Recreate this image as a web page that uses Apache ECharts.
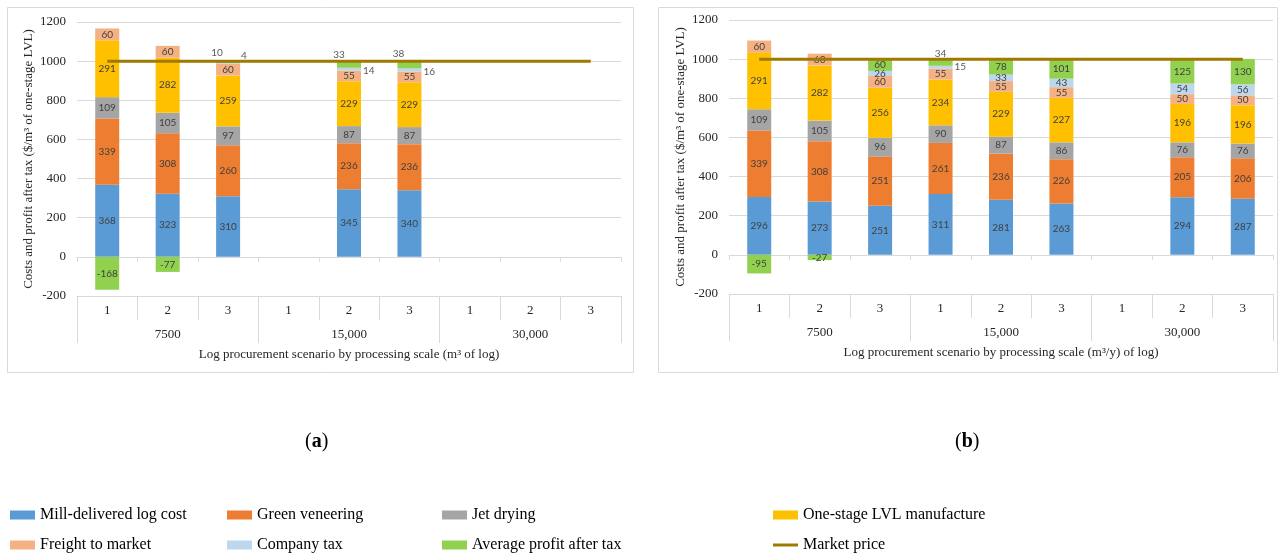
<!DOCTYPE html>
<html>
<head>
<meta charset="utf-8">
<script src="https://cdn.jsdelivr.net/npm/echarts@6/dist/echarts.min.js"></script>
<style>
  html, body { margin: 0; padding: 0; background: #fff; }
  #chart { width: 1282px; height: 556px; }
</style>
</head>
<body>
<div id="chart"></div>
<script>
// Category axis: scenario number within each processing scale
const scenarioLabels = ['1', '2', '3', '1', '2', '3', '1', '2', '3'];
const scaleLabels = ['7500', '15,000', '30,000'];
const yTicks = { min: -200, max: 1200, interval: 200 };

const seriesNames = [
  'Mill-delivered log cost', 'Green veneering', 'Jet drying', 'One-stage LVL manufacture',
  'Freight to market', 'Company tax', 'Average profit after tax'
];
const marketName = 'Market price';

// (a) costs and profit, $/m3 of one-stage LVL
const millA    = [368, 323, 310, null, 345, 340, null, null, null];
const greenA   = [339, 308, 260, null, 236, 236, null, null, null];
const jetA     = [109, 105,  97, null,  87,  87, null, null, null];
const lvlA     = [291, 282, 259, null, 229, 229, null, null, null];
const freightA = [ 60,  60,  60, null,  55,  55, null, null, null];
const taxA     = [null, null,  4, null,  14,  16, null, null, null];
const profitA  = [-168, -77,  10, null,  33,  38, null, null, null];

// (b) costs and profit, $/m3 of one-stage LVL
const millB    = [296, 273, 251, 311, 281, 263, null, 294, 287];
const greenB   = [339, 308, 251, 261, 236, 226, null, 205, 206];
const jetB     = [109, 105,  96,  90,  87,  86, null,  76,  76];
const lvlB     = [291, 282, 256, 234, 229, 227, null, 196, 196];
const freightB = [ 60,  60,  60,  55,  55,  55, null,  50,  50];
const taxB     = [null, null, 26,  15,  33,  43, null,  54,  56];
const profitB  = [-95, -27,  60,  34,  78, 101, null, 125, 130];

const marketPrice = [1000, 1000, 1000, 1000, 1000, 1000, 1000, 1000, 1000];

const colors = ['#5B9BD5', '#ED7D31', '#A5A5A5', '#FFC000', '#F4B183', '#BDD7EE', '#92D050'];
const marketColor = '#A07A00';

const serif = 'Liberation Serif, Times New Roman, serif';
const labelFont = 'Lato, Liberation Sans, sans-serif';
const gridColor = '#D9D9D9';

// Thin segments get their labels moved beside / above the column
const outsideA = {
  5: { 2: { position: 'right', distance: 1, offset: [0, -8] },
       4: { position: 'right', distance: 2, offset: [0, 2] },
       5: { position: 'right', distance: 2, offset: [0, 2] } },
  6: { 2: { position: 'top', distance: 3, offset: [-11, 0] },
       4: { position: 'top', distance: 2, offset: [-10, 0] },
       5: { position: 'top', distance: 2, offset: [-11, 0] } }
};
const outsideB = {
  5: { 3: { position: 'right', distance: 2, offset: [0, 0] } },
  6: { 3: { position: 'top', distance: 0, offset: [0, 0] } }
};

function withLabels(values, overrides) {
  return values.map((v, i) => {
    if (overrides && overrides[i] && v != null) {
      return { value: v, label: Object.assign({ color: '#595959' }, overrides[i]) };
    }
    return v;
  });
}

function panelSeries(stackId, gridIdx, columns, overrides) {
  const list = columns.map((vals, k) => ({
    name: seriesNames[k],
    type: 'bar',
    stack: stackId,
    xAxisIndex: gridIdx * 3,
    yAxisIndex: gridIdx,
    barWidth: 24,
    itemStyle: { color: colors[k] },
    label: {
      show: true,
      position: 'inside',
      fontFamily: labelFont,
      fontSize: 10,
      color: '#404040'
    },
    emphasis: { disabled: true },
    data: withLabels(vals, overrides[k])
  }));
  list.push({
    name: marketName,
    type: 'line',
    xAxisIndex: gridIdx * 3,
    yAxisIndex: gridIdx,
    symbol: 'none',
    z: 5,
    lineStyle: { color: marketColor, width: 3 },
    itemStyle: { color: marketColor },
    emphasis: { disabled: true },
    data: marketPrice
  });
  return list;
}

function panelAxes(gridIdx, xTitle) {
  return [
    {
      type: 'category', gridIndex: gridIdx, data: scenarioLabels,
      axisLine: { onZero: true, lineStyle: { color: gridColor } },
      axisTick: { show: true, length: 5, interval: 0, lineStyle: { color: gridColor } },
      axisLabel: { show: false },
      splitLine: { show: false }
    },
    {
      type: 'category', gridIndex: gridIdx, data: scenarioLabels, position: 'bottom',
      axisLine: { onZero: false, lineStyle: { color: gridColor } },
      axisTick: { show: true, length: 24, interval: 0, lineStyle: { color: gridColor } },
      axisLabel: { interval: 0, margin: 8, fontFamily: serif, fontSize: 13, color: '#262626' }
    },
    {
      type: 'category', gridIndex: gridIdx, data: scaleLabels, position: 'bottom', offset: 24,
      axisLine: { show: false, onZero: false },
      axisTick: { show: true, length: 23, interval: 0, lineStyle: { color: gridColor } },
      axisLabel: { interval: 0, margin: 8, fontFamily: serif, fontSize: 13, color: '#262626' },
      name: xTitle, nameLocation: 'middle', nameGap: 28,
      nameTextStyle: { fontFamily: serif, fontSize: 13, color: '#262626' }
    }
  ];
}

function valueAxis(gridIdx) {
  return {
    type: 'value', gridIndex: gridIdx,
    min: yTicks.min, max: yTicks.max, interval: yTicks.interval,
    axisLine: { show: false }, axisTick: { show: false },
    axisLabel: { margin: 11, fontFamily: serif, fontSize: 13, color: '#262626',
                 formatter: v => String(v) },
    splitLine: { lineStyle: { color: gridColor } },
    name: 'Costs and profit after tax ($/m³ of one-stage LVL)',
    nameLocation: 'middle', nameGap: 42,
    nameTextStyle: { fontFamily: serif, fontSize: 13, color: '#262626' }
  };
}

// One legend entry per block so the entries sit in a fixed 4 x 2 layout
const legendText = { fontFamily: serif, fontSize: 16, color: '#000', lineHeight: 20 };
const legendCols = [10, 227, 442, 773];
const legendRows = [505, 535];
const legendOrder = [
  'Mill-delivered log cost', 'Green veneering', 'Jet drying', 'One-stage LVL manufacture',
  'Freight to market', 'Company tax', 'Average profit after tax', marketName
];
const legends = legendOrder.map((name, i) => {
  const isLine = name === marketName;
  return {
    left: legendCols[i % 4], top: legendRows[Math.floor(i / 4)],
    orient: 'horizontal', padding: 0,
    itemWidth: 25, itemHeight: isLine ? 3 : 9,
    selectedMode: false,
    icon: 'rect',
    textStyle: legendText,
    data: [name]
  };
});

function panelTag(x, letter) {
  return {
    type: 'text', left: x, top: 432,
    style: {
      text: '{p|(}{b|' + letter + '}{p|)}',
      rich: {
        p: { fontFamily: serif, fontSize: 20, fill: '#000' },
        b: { fontFamily: serif, fontSize: 20, fontWeight: 'bold', fill: '#000' }
      }
    }
  };
}

const chart = echarts.init(document.getElementById('chart'), null, { renderer: 'canvas' });
chart.setOption({
  animation: false,
  backgroundColor: '#fff',
  grid: [
    { left: 77, top: 22, width: 544, height: 274 },
    { left: 729, top: 20, width: 544, height: 274 }
  ],
  xAxis: [].concat(
    panelAxes(0, 'Log procurement scenario by processing scale (m³ of log)'),
    panelAxes(1, 'Log procurement scenario by processing scale (m³/y) of log)')
  ),
  yAxis: [valueAxis(0), valueAxis(1)],
  legend: legends,
  graphic: [
    { type: 'rect', shape: { x: 7.5, y: 7.5, width: 626, height: 365 },
      style: { fill: 'none', stroke: gridColor, lineWidth: 1 }, silent: true },
    { type: 'rect', shape: { x: 658.5, y: 7.5, width: 619, height: 365 },
      style: { fill: 'none', stroke: gridColor, lineWidth: 1 }, silent: true },
    panelTag(305, 'a'),
    panelTag(955, 'b')
  ],
  series: [].concat(
    panelSeries('a', 0, [millA, greenA, jetA, lvlA, freightA, taxA, profitA], outsideA),
    panelSeries('b', 1, [millB, greenB, jetB, lvlB, freightB, taxB, profitB], outsideB)
  )
});
</script>
</body>
</html>
